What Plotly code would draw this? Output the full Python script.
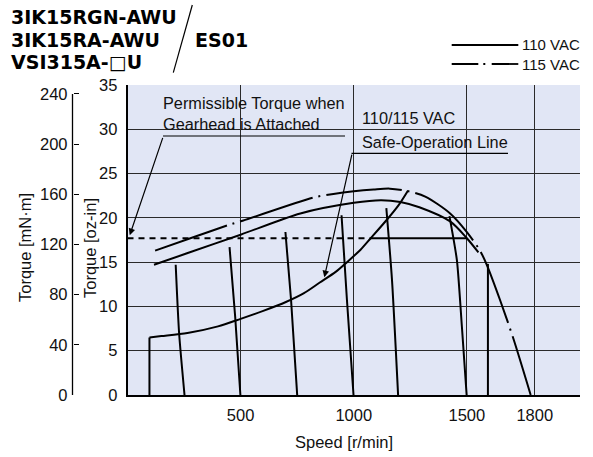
import plotly.graph_objects as go

# ---- data -------------------------------------------------------------
MNM_PER_OZIN = 7.0615

# 110 VAC speed-torque characteristic
speed_110 = [117, 263, 500, 764, 1000, 1120, 1206, 1290, 1426, 1500, 1551]
torque_110 = [14.7, 16.0, 18.1, 20.5, 21.7, 22.0, 21.8, 21.2, 19.6, 17.7, 16.1]

# 115 VAC speed-torque characteristic
speed_115 = [122, 300, 448, 512, 822, 910, 1000, 1088, 1160, 1242, 1316, 1426,
             1500, 1558, 1588, 1647, 1705, 1782]
torque_115 = [16.3, 17.9, 19.2, 19.7, 22.3, 22.7, 23.0, 23.2, 23.3, 23.0, 22.4, 20.5,
              18.4, 16.3, 14.7, 10.7, 6.4, 0.0]

# safe-operation line (vertical stub, then the curve)
safe_stub_speed = [97, 97]
safe_stub_torque = [0.0, 6.5]
safe_speed = [97, 150, 265, 400, 500, 600, 700, 780, 850, 920, 970, 1030, 1075, 1150, 1200, 1240]
safe_torque = [6.5, 6.65, 7.0, 7.75, 8.6, 9.5, 10.5, 11.5, 12.7, 13.9, 15.0, 16.4, 17.7, 19.9, 21.5, 23.1]

# permissible torque with gearhead attached [mN·m]
gearhead_torque = 125
gearhead_dash_speed = [0, 1075]
gearhead_solid_speed = [1075, 1500]

# speed-control characteristics at individual settings
setting_speeds = [
    [213, 228, 252],
    [451, 476, 499],
    [698, 723, 750],
    [946, 970, 999],
    [1144, 1169, 1196],
    [1423, 1456, 1478, 1499],
    [1593, 1593],
]
setting_torques = [
    [14.7, 7.0, 0.0],
    [16.7, 8.8, 0.0],
    [18.4, 10.7, 0.0],
    [20.3, 10.7, 0.0],
    [21.1, 13.0, 0.0],
    [20.2, 15.2, 7.7, 0.0],
    [14.8, 0.0],
]

speed_ticks = [500, 1000, 1500, 1800]
ozin_ticks = [0, 5, 10, 15, 20, 25, 30, 35]
mnm_ticks = [0, 40, 80, 120, 160, 200, 240]

# ---- styling ----------------------------------------------------------
SANS = "Liberation Sans, Arial, sans-serif"
BOLD = "DejaVu Sans, Liberation Sans, sans-serif"
INK = "#111111"
BG = "#e1e6f5"
GRID = "#2a2a2a"
W, H = 593, 457
ML, MR, MT, MB = 0, 13, 85, 62
PW = W - ML - MR
PH = H - MT - MB
X0 = 127.5 / PW  # left edge of the chart area in paper units
DASHDOT = "76px,6px,2px,6px"


def px(x):
    return x / PW


def py(y):
    return (H - MB - y) / PH


fig = go.Figure()

line_style = dict(color="black", width=2)
fig.add_trace(go.Scatter(x=speed_110, y=torque_110, mode="lines",
                         line=dict(**line_style, shape="spline", smoothing=0.8)))
fig.add_trace(go.Scatter(x=speed_115, y=torque_115, mode="lines",
                         line=dict(color="black", width=2, shape="spline", smoothing=0.8,
                                   dash=DASHDOT)))
fig.add_trace(go.Scatter(x=safe_stub_speed, y=safe_stub_torque, mode="lines",
                         line=line_style))
fig.add_trace(go.Scatter(x=safe_speed, y=safe_torque, mode="lines",
                         line=dict(**line_style, shape="spline", smoothing=0.8)))
for xs, ys in zip(setting_speeds, setting_torques):
    fig.add_trace(go.Scatter(x=xs, y=ys, mode="lines",
                             line=dict(**line_style, shape="spline", smoothing=0.6)))

# gearhead limit drawn against the mN·m scale
fig.add_trace(go.Scatter(x=gearhead_dash_speed, y=[gearhead_torque] * 2, yaxis="y2",
                         mode="lines", line=dict(color="black", width=2, dash="6px,5px")))
fig.add_trace(go.Scatter(x=gearhead_solid_speed, y=[gearhead_torque] * 2, yaxis="y2",
                         mode="lines", line=line_style))

axis_font = dict(family=SANS, size=16.5, color=INK)

fig.update_layout(
    width=W, height=H,
    margin=dict(l=ML, r=MR, t=MT, b=MB),
    paper_bgcolor="white", plot_bgcolor=BG,
    showlegend=False,
    xaxis=dict(domain=[X0, 1], range=[0, 2000], tickvals=speed_ticks,
               showgrid=True, gridcolor=GRID, gridwidth=1.3, zeroline=False,
               showline=True, linecolor="black", linewidth=1.5, ticks="",
               tickfont=axis_font, ticklabelstandoff=4),
    xaxis2=dict(overlaying="x", side="top", range=[0, 2000], tickvals=speed_ticks,
                showgrid=False, zeroline=False, showticklabels=False,
                showline=True, linecolor="black", linewidth=1.5,
                ticks="outside", ticklen=5, tickwidth=1.3, tickcolor="black"),
    yaxis=dict(range=[0, 35], tickvals=ozin_ticks, showgrid=True, gridcolor=GRID,
               gridwidth=1.3, zeroline=False, showline=True, linecolor="black",
               linewidth=1.5, ticks="", tickfont=axis_font, ticklabelstandoff=5),
    yaxis2=dict(overlaying="y", anchor="free", position=px(72.5), side="left",
                range=[0, 35 * MNM_PER_OZIN], tickvals=mnm_ticks,
                showgrid=False, zeroline=False, showline=False,
                ticks="inside", ticklen=5, tickwidth=1.3, tickcolor="black",
                tickfont=axis_font, ticklabelstandoff=5),
)

shapes = []
# mN·m axis line, spanning 0–240
shapes.append(dict(type="line", xref="paper", yref="y2", x0=px(72.5), x1=px(72.5),
                   y0=0, y1=240, line=dict(color="black", width=1.3)))
# label backgrounds that hide the grid behind the callouts
shapes.append(dict(type="rect", xref="paper", yref="paper", layer="between",
                   x0=px(155), x1=px(325), y0=py(135), y1=py(87),
                   fillcolor=BG, line=dict(width=0)))
shapes.append(dict(type="rect", xref="paper", yref="paper", layer="between",
                   x0=px(351.5), x1=px(515), y0=py(153), y1=py(127.5),
                   fillcolor=BG, line=dict(width=0)))
# callout underlines
shapes.append(dict(type="line", xref="paper", yref="paper",
                   x0=px(163), x1=px(345), y0=py(136), y1=py(136),
                   line=dict(color="black", width=1.2)))
shapes.append(dict(type="line", xref="paper", yref="paper",
                   x0=px(351.5), x1=px(508), y0=py(153.3), y1=py(153.3),
                   line=dict(color="black", width=1.2)))
# model-name separator
shapes.append(dict(type="line", xref="paper", yref="paper",
                   x0=px(192.3), x1=px(173.3), y0=py(5), y1=py(72.7),
                   line=dict(color="black", width=1.2)))
# legend samples
shapes.append(dict(type="line", xref="paper", yref="paper",
                   x0=px(451.7), x1=px(518.3), y0=py(45), y1=py(45),
                   line=dict(color="black", width=1.8)))
shapes.append(dict(type="line", xref="paper", yref="paper",
                   x0=px(451.7), x1=px(518.3), y0=py(64), y1=py(64),
                   line=dict(color="black", width=1.8, dash="26.6px,5px,2px,6.4px")))
fig.update_layout(shapes=shapes)

ann = []
title_font = dict(family=BOLD, size=19, color="black", weight="bold")
for text, x, y in [("3IK15RGN-AWU", 9, 17), ("3IK15RA-AWU", 9, 39.5),
                   ("VSI315A-□U", 9, 61.7), ("ES01", 193, 39.5)]:
    ann.append(dict(text=text, xref="paper", yref="paper", x=px(x), y=py(y),
                    xanchor="left", yanchor="middle", showarrow=False, font=title_font))

legend_font = dict(family=SANS, size=15, color=INK)
for text, y in [("110 VAC", 45), ("115 VAC", 64)]:
    ann.append(dict(text=text, xref="paper", yref="paper", x=px(520), y=py(y),
                    xanchor="left", yanchor="middle", showarrow=False, font=legend_font))

label_font = dict(family=SANS, size=16.3, color=INK)
for text, x, y in [("Permissible Torque when", 160.5, 103),
                   ("Gearhead is Attached", 160.5, 124),
                   ("110/115 VAC", 359.5, 118.3),
                   ("Safe-Operation Line", 359.5, 141.5)]:
    ann.append(dict(text=text, xref="paper", yref="paper", x=px(x), y=py(y),
                    xanchor="left", yanchor="middle", showarrow=False, font=label_font))

# axis titles
for text, x, y, angle in [("Torque [mN·m]", 25, 248, -90),
                          ("Torque [oz-in]", 90, 248, -90),
                          ("Speed [r/min]", 343.5, 441.5, 0)]:
    ann.append(dict(text=text, xref="paper", yref="paper", x=px(x), y=py(y),
                    xanchor="center", yanchor="middle", textangle=angle,
                    showarrow=False, font=axis_font))

# callout leaders
arrow = dict(showarrow=True, arrowhead=2, arrowsize=1.1, arrowwidth=1.2,
             arrowcolor="black", text="", standoff=0, startstandoff=0)
ann.append(dict(xref="x", yref="y", axref="x", ayref="y",
                x=10, y=18.05, ax=158, ay=29.2, **arrow))
ann.append(dict(xref="x", yref="y", axref="x", ayref="y",
                x=870, y=13.3, ax=993, ay=27.3, **arrow))
fig.update_layout(annotations=ann)

fig.write_html("out.html")
